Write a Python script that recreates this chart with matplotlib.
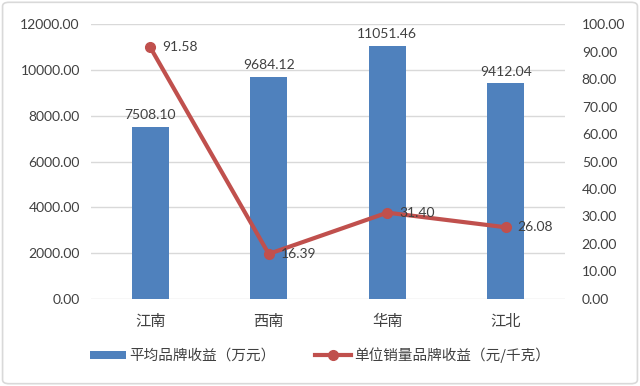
import matplotlib
matplotlib.use("Agg")
import matplotlib.pyplot as plt
from matplotlib.patches import FancyBboxPatch
from matplotlib.lines import Line2D
from matplotlib.patches import Patch

categories = ["江南", "西南", "华南", "江北"]
avg_income = [7508.10, 9684.12, 11051.46, 9412.04]
unit_income = [91.58, 16.39, 31.40, 26.08]
left_ticks = [0, 2000, 4000, 6000, 8000, 10000, 12000]
right_ticks = [0, 10, 20, 30, 40, 50, 60, 70, 80, 90, 100]
bar_label = "平均品牌收益（万元）"
line_label = "单位销量品牌收益（元/千克）"

plt.rcParams['font.family'] = ['Lato', 'Noto Sans CJK SC', 'DejaVu Sans']
bar_color = "#4F81BD"
line_color = "#C0504D"
text_color = "#404040"

fig = plt.figure(figsize=(6.4, 3.86), dpi=100)
ax = fig.add_axes([0.142, 0.2254, 0.741, 0.7124])
x = list(range(len(categories)))
ax.bar(x, avg_income, width=0.31, color=bar_color, zorder=2)
ax.set_xlim(-0.5, len(categories) - 0.5)
ax.set_ylim(0, 12000)
ax.set_yticks(left_ticks)
ax.set_yticklabels([f"{v:.2f}" for v in left_ticks], fontsize=10, color=text_color)
ax.set_xticks(x)
ax.set_xticklabels(categories, fontsize=11, color=text_color, family=['Noto Sans CJK SC', 'DejaVu Sans'])
ax.tick_params(length=0, pad=8)
ax.tick_params(axis='x', pad=10)
ax.grid(axis='y', color="#D9D9D9", linewidth=1, zorder=0)
for s in ax.spines.values():
    s.set_visible(False)
for xi, v in zip(x, avg_income):
    ax.text(xi, v + 250, f"{v:.2f}", ha='center', va='bottom', fontsize=10, color=text_color)

ax2 = ax.twinx()
ax2.plot(x, unit_income, color=line_color, linewidth=3, marker='o', markersize=7, zorder=3)
ax2.set_ylim(0, 100)
ax2.set_yticks(right_ticks)
ax2.set_yticklabels([f"{v:.2f}" for v in right_ticks], fontsize=10, color=text_color)
ax2.tick_params(length=0, pad=12)
for s in ax2.spines.values():
    s.set_visible(False)
for xi, v in zip(x, unit_income):
    ax2.text(xi + 0.1, v, f"{v:.2f}", ha='left', va='center', fontsize=10, color=text_color)

handles = [Patch(facecolor=bar_color, edgecolor='none'),
           Line2D([0], [0], color=line_color, linewidth=3, marker='o', markersize=7)]
fig.legend(handles, [bar_label, line_label], loc='center', bbox_to_anchor=(0.5, 0.08),
           ncol=2, frameon=False, handlelength=2.5, handleheight=0.45, handletextpad=0.2,
           columnspacing=2.7, prop={'family': ['Noto Sans CJK SC', 'DejaVu Sans'], 'size': 10.5},
           labelcolor=text_color)

border = FancyBboxPatch((0.004, 0.006), 0.992, 0.988, boxstyle="round,pad=0,rounding_size=0.01",
                        transform=fig.transFigure, facecolor='none', edgecolor="#D9D9D9", linewidth=1.2)
fig.patches.append(border)

fig.savefig("out.png", dpi=100)
